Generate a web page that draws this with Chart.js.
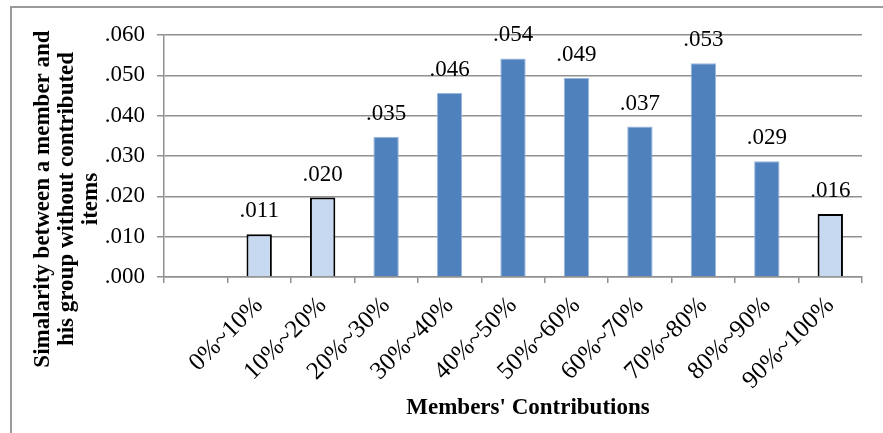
<!DOCTYPE html>
<html>
<head>
<meta charset="utf-8">
<script src="https://cdn.jsdelivr.net/npm/chart.js@4.4.0/dist/chart.umd.min.js"></script>
<style>
  html, body { margin: 0; padding: 0; background: #fff; overflow: hidden; }
  #wrap { position: relative; width: 883px; height: 433px; }
  #frame { position: absolute; left: 10px; top: 6px; width: 900px; height: 500px; border: 2px solid #9a9a9a; box-sizing: border-box; }
  canvas { position: absolute; left: 0; top: 0; }
</style>
</head>
<body>
<div id="wrap">
  <div id="frame"></div>
  <canvas id="chart" width="883" height="433"></canvas>
</div>
<script>
// categories (first slot is left empty in the original chart)
const categories = ['', '0%~10%', '10%~20%', '20%~30%', '30%~40%', '40%~50%',
                    '50%~60%', '60%~70%', '70%~80%', '80%~90%', '90%~100%'];
const similarity = [null, 0.0106, 0.0197, 0.0348, 0.0456, 0.0542,
                    0.0494, 0.0373, 0.0530, 0.0287, 0.0156];
// groups drawn in the pale colour
const paleCategories = ['0%~10%', '10%~20%', '90%~100%'];

const yTitleLines = ['Simalarity between a member and', 'his group without contributed', 'items'];
const xTitle = "Members' Contributions";

const SERIF = '"Liberation Serif", "Times New Roman", serif';
const GRID = '#909090';

const fmt = v => v.toFixed(3).replace(/^0/, '');

const isPale = categories.map(c => paleCategories.includes(c));

// value labels above each bar
const barLabels = {
  id: 'barLabels',
  afterDatasetsDraw(chart) {
    const ctx = chart.ctx;
    const meta = chart.getDatasetMeta(0);
    ctx.save();
    ctx.font = '23px ' + SERIF;
    ctx.fillStyle = '#000';
    ctx.textAlign = 'center';
    ctx.textBaseline = 'alphabetic';
    meta.data.forEach((bar, i) => {
      const v = similarity[i];
      if (v == null) return;
      ctx.fillText(fmt(v), bar.x, bar.y - 17);
    });
    ctx.restore();
  }
};

// axis titles, placed like the original
const axisTitles = {
  id: 'axisTitles',
  afterDraw(chart) {
    const ctx = chart.ctx;
    ctx.save();
    ctx.fillStyle = '#000';
    ctx.font = 'bold 23px ' + SERIF;
    ctx.textAlign = 'center';
    ctx.textBaseline = 'middle';
    ctx.translate(43, 199);
    ctx.rotate(-Math.PI / 2);
    yTitleLines.forEach((line, i) => ctx.fillText(line, 0, i * 24));
    ctx.restore();

    ctx.save();
    ctx.fillStyle = '#000';
    ctx.font = 'bold 23px ' + SERIF;
    ctx.textAlign = 'center';
    ctx.textBaseline = 'alphabetic';
    ctx.fillText(xTitle, 528, 414);
    ctx.restore();
  }
};

new Chart(document.getElementById('chart'), {
  type: 'bar',
  data: {
    labels: categories,
    datasets: [{
      data: similarity,
      backgroundColor: isPale.map(p => p ? '#c6d9f1' : '#4f81bd'),
      borderColor: isPale.map(p => p ? '#000' : '#9ab7df'),
      borderWidth: isPale.map(p => p ? 2 : 1),
      categoryPercentage: 1,
      barPercentage: 0.4
    }]
  },
  options: {
    responsive: false,
    animation: false,
    devicePixelRatio: 1,
    layout: { padding: { left: 0, right: 21, top: 35, bottom: 0 } },
    plugins: { legend: { display: false }, tooltip: { enabled: false } },
    scales: {
      x: {
        grid: { offset: true, drawOnChartArea: false, drawTicks: true, tickLength: 6, color: GRID, lineWidth: 1.5 },
        border: { color: GRID, width: 1.5 },
        ticks: {
          autoSkip: false, minRotation: 45, maxRotation: 45, padding: 8,
          color: '#000', font: { family: SERIF, size: 25 }
        },
        afterFit: s => { s.height = 156; }
      },
      y: {
        min: 0, max: 0.06,
        grid: { color: GRID, lineWidth: 1.5, tickLength: 7 },
        border: { color: GRID, width: 1.5 },
        ticks: {
          stepSize: 0.01, padding: 12, color: '#000',
          font: { family: SERIF, size: 23 },
          callback: v => fmt(v)
        },
        afterFit: s => { s.width = 164; }
      }
    }
  },
  plugins: [barLabels, axisTitles]
});
</script>
</body>
</html>
